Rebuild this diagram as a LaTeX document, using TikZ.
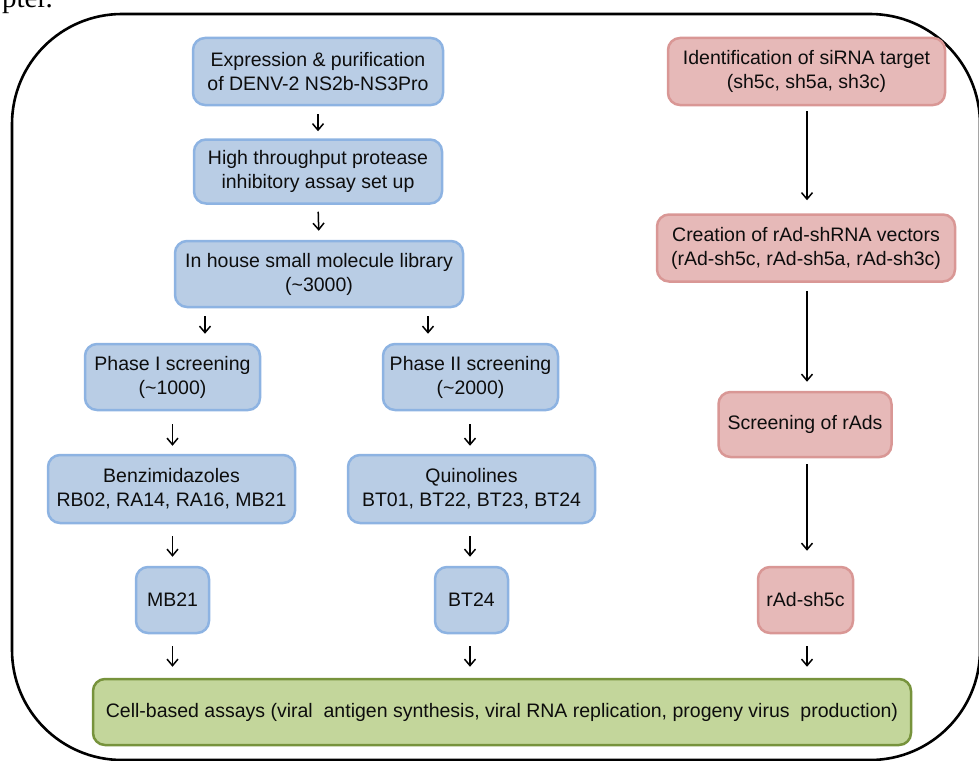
\documentclass[tikz,border=0pt]{standalone}
\usepackage{fontspec}
\setmainfont{Liberation Sans}
\newfontfamily\serifpage{Liberation Serif}
\usetikzlibrary{arrows.meta}
\definecolor{bfill}{HTML}{B9CDE5}
\definecolor{bdraw}{HTML}{8DB3E2}
\definecolor{pfill}{HTML}{E6B9B8}
\definecolor{pdraw}{HTML}{D99795}
\definecolor{gfill}{HTML}{C3D69B}
\definecolor{gdraw}{HTML}{77933C}
\definecolor{txt}{HTML}{0D0D0D}
\tikzset{
  boxbase/.style={rounded corners=12pt, line width=2.5pt, align=center, inner sep=0pt,
    text=txt, font=\fontsize{19.5}{24}\selectfont},
  bluebox/.style={boxbase, fill=bfill, draw=bdraw},
  pinkbox/.style={boxbase, fill=pfill, draw=pdraw},
  greenbox/.style={boxbase, fill=gfill, draw=gdraw},
  arr/.style={line width=1.5pt, -{Straight Barb[length=6.5pt,width=11pt,line width=1.5pt]}},
}
\begin{document}
\begin{tikzpicture}[x=1pt,y=-1pt]
\useasboundingbox (0,0) rectangle (979,760);
% page text fragment
\node[anchor=base east, inner sep=0pt, font=\serifpage\fontsize{29}{29}\selectfont] (pg) at (53,8) {pter.};
% outer frame
\draw[line width=2.6pt, rounded corners=110pt] (12,14) rectangle (980,760);
% left/middle column
\node[bluebox, minimum width=250pt, minimum height=67pt] (n1) at (318,71.5) {Expression \& purification\\of DENV-2 NS2b-NS3Pro};
\node[bluebox, minimum width=248pt, minimum height=64pt] (n2) at (318,171.5) {High throughput protease\\inhibitory assay set up};
\node[bluebox, minimum width=288pt, minimum height=66pt] (n3) at (319,274) {In house small molecule library\\(\textasciitilde 3000)};
\node[bluebox, minimum width=175pt, minimum height=66pt] (n4) at (172.5,377) {Phase I screening\\(\textasciitilde 1000)};
\node[bluebox, minimum width=175pt, minimum height=66pt] (n5) at (470.5,377) {Phase II screening\\(\textasciitilde 2000)};
\node[bluebox, minimum width=247pt, minimum height=68pt] (n6) at (171.5,489) {Benzimidazoles\\RB02, RA14, RA16, MB21};
\node[bluebox, minimum width=247pt, minimum height=68pt] (n7) at (471.5,489) {Quinolines\\BT01, BT22, BT23, BT24};
\node[bluebox, minimum width=73pt, minimum height=66pt] (n8) at (172.5,600) {MB21};
\node[bluebox, minimum width=73pt, minimum height=66pt] (n9) at (471.5,600) {BT24};
% right column
\node[pinkbox, minimum width=277pt, minimum height=67pt] (n10) at (806.5,71.5) {Identification of siRNA target\\(sh5c, sh5a, sh3c)};
\node[pinkbox, minimum width=298pt, minimum height=67pt] (n11) at (806,248) {Creation of rAd-shRNA vectors\\(rAd-sh5c, rAd-sh5a, rAd-sh3c)};
\node[pinkbox, minimum width=173pt, minimum height=65pt] (n12) at (805,424.5) {Screening of rAds};
\node[pinkbox, minimum width=95pt, minimum height=66pt] (n13) at (805.5,600) {rAd-sh5c};
% bottom
\node[greenbox, minimum width=818pt, minimum height=66pt] (n14) at (502,712) {Cell-based assays (viral\ \ antigen synthesis, viral RNA replication, progeny virus\ \ production)};
% arrows
\draw[arr, shorten <=8pt, shorten >=7pt] (n1.south) -- (n2.north);
\draw[arr, shorten <=7pt, shorten >=9pt] (n2.south) -- (n3.north);
\draw[arr, shorten <=8pt, shorten >=9pt] ([xshift=-114pt]n3.south) -- ([xshift=-114pt]n3.south |- n4.north);
\draw[arr, shorten <=8pt, shorten >=9pt] ([xshift=109pt]n3.south) -- ([xshift=109pt]n3.south |- n5.north);
\draw[arr, shorten <=13pt, shorten >=8pt] (n4.south) -- (n4.south |- n6.north);
\draw[arr, shorten <=13pt, shorten >=8pt] ([xshift=-0.5pt]n5.south) -- ([xshift=-0.5pt]n5.south |- n7.north);
\draw[arr, shorten <=12pt, shorten >=9pt] (n6.south -| n8.south) -- (n8.north);
\draw[arr, shorten <=12pt, shorten >=9pt] ([xshift=-1.5pt]n7.south) -- ([xshift=-1.5pt]n7.south |- n9.north);
\draw[arr, shorten <=12pt, shorten >=11pt] (n8.south) -- (n8.south |- n14.north);
\draw[arr, shorten <=12pt, shorten >=11pt] ([xshift=-1.5pt]n9.south) -- ([xshift=-1.5pt]n9.south |- n14.north);
\draw[arr, shorten <=12pt, shorten >=11pt] ([xshift=1.5pt]n13.south) -- ([xshift=1.5pt]n13.south |- n14.north);
\draw[arr, shorten <=5pt, shorten >=13pt] ([xshift=0.5pt]n10.south) -- ([xshift=0.5pt]n10.south |- n11.north);
\draw[arr, shorten <=8pt, shorten >=9pt] ([xshift=1pt]n11.south) -- ([xshift=1pt]n11.south |- n12.north);
\draw[arr, shorten <=6pt, shorten >=15pt] ([xshift=2pt]n12.south) -- ([xshift=2pt]n12.south |- n13.north);
\end{tikzpicture}
\end{document}
